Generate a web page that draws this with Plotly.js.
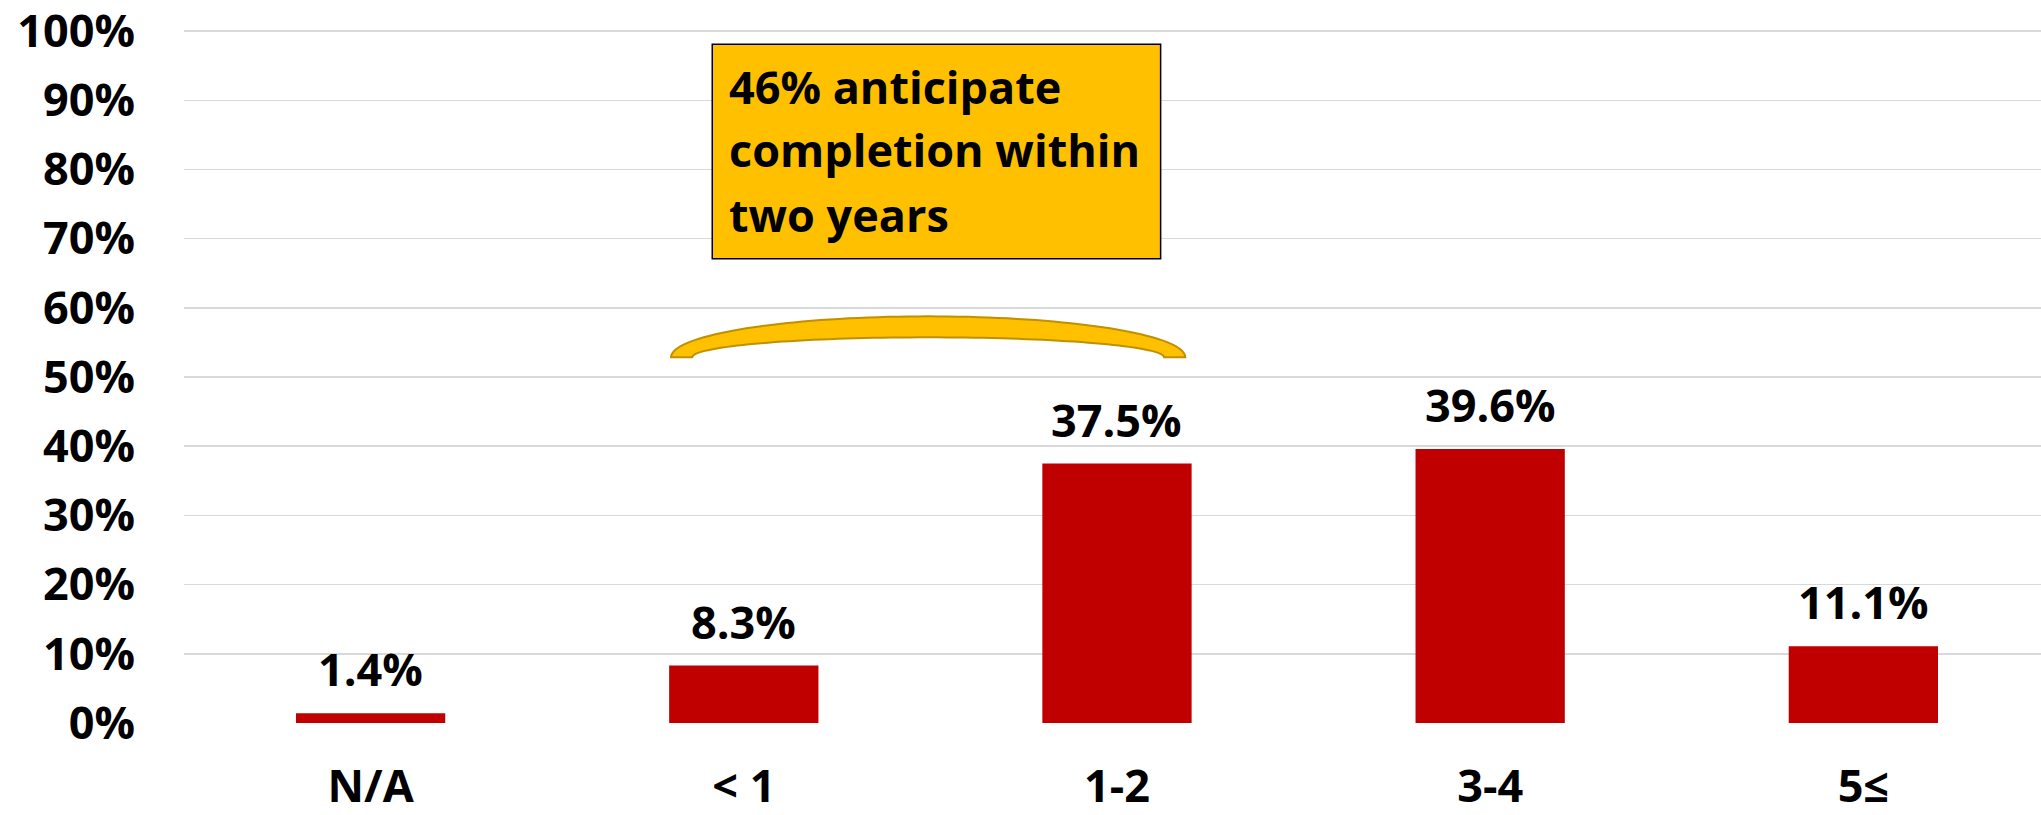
<!DOCTYPE html>
<html>
<head>
<meta charset="utf-8">
<script src="https://cdn.plot.ly/plotly-3.0.1.min.js"></script>
<style>
html,body{margin:0;padding:0;background:#fff;overflow:hidden;}
#chart{width:2041px;height:815px;}
</style>
</head>
<body>
<div id="chart"></div>
<script>
const categories = ["N/A", "< 1", "1-2", "3-4", "5≤"];
const values = [1.4, 8.3, 37.5, 39.6, 11.1];
const yTicks = [0,10,20,30,40,50,60,70,80,90,100];
const calloutLines = ["46% anticipate", "completion within", "two years"];

const FONT = "Open Sans, Lato, Liberation Sans, sans-serif";
const FS = 45;

const trace = {
  type: "bar",
  x: categories,
  y: values,
  marker: {color: "#C00000"},
  hoverinfo: "none"
};

// value labels
const annotations = categories.map((c, i) => ({
  x: c, y: values[i], xref: "x", yref: "y",
  text: values[i].toFixed(1) + "%",
  showarrow: false, yanchor: "bottom", xanchor: "center",
  yshift: 12,
  font: {family: FONT, size: FS, color: "#000", weight: "bold"}
}));

// callout text lines
const lineY = [92.0, 82.9, 73.5];
calloutLines.forEach((t, i) => {
  annotations.push({
    x: 0.955, y: lineY[i], xref: "x", yref: "y",
    text: t, showarrow: false, xanchor: "left", yanchor: "middle",
    font: {family: FONT, size: FS, color: "#000", weight: "bold"}
  });
});

// bracket path (two half ellipses)
function bracketPath(cx, cy, ao, bo, ai, bi, n) {
  let pts = [];
  for (let k = 0; k <= n; k++) {
    const t = Math.PI - Math.PI * k / n;
    pts.push([cx + ao * Math.cos(t), cy + bo * Math.sin(t)]);
  }
  for (let k = 0; k <= n; k++) {
    const t = Math.PI * k / n;
    pts.push([cx + ai * Math.cos(t), cy + bi * Math.sin(t)]);
  }
  return "M " + pts.map(p => p[0].toFixed(4) + "," + p[1].toFixed(3)).join(" L ") + " Z";
}

const shapes = [
  {type: "rect", xref: "x", yref: "y", x0: 0.9155, x1: 2.117, y0: 67.1, y1: 98.1,
   fillcolor: "#FFC000", line: {color: "#000", width: 1.5}, layer: "above"},
  {type: "path", xref: "x", yref: "y",
   path: bracketPath(1.494, 52.85, 0.689, 5.92, 0.632, 2.89, 80),
   fillcolor: "#FFC000", line: {color: "#BF9000", width: 2}, layer: "above"}
];

const layout = {
  width: 2041, height: 815,
  margin: {l: 184, r: 0, t: 28.6, b: 92.3, pad: 0},
  paper_bgcolor: "#fff", plot_bgcolor: "#fff",
  showlegend: false,
  bargap: 0.6,
  xaxis: {
    type: "category", range: [-0.5, 4.476],
    showgrid: false, zeroline: false, showline: false, ticks: "",
    tickfont: {family: FONT, size: FS, color: "#000", weight: "bold"},
    ticklabelstandoff: 33
  },
  yaxis: {
    range: [0, 100.3], tickvals: yTicks, ticktext: yTicks.map(v => v + "%"),
    showgrid: true, gridcolor: "#D9D9D9", gridwidth: 1.5,
    zeroline: false, showline: false, ticks: "",
    tickfont: {family: FONT, size: FS, color: "#000", weight: "bold"},
    ticklabelstandoff: 48, ticklabeloverflow: "allow"
  },
  annotations: annotations,
  shapes: shapes
};

Plotly.newPlot("chart", [trace], layout, {displayModeBar: false, staticPlot: true});
</script>
</body>
</html>
